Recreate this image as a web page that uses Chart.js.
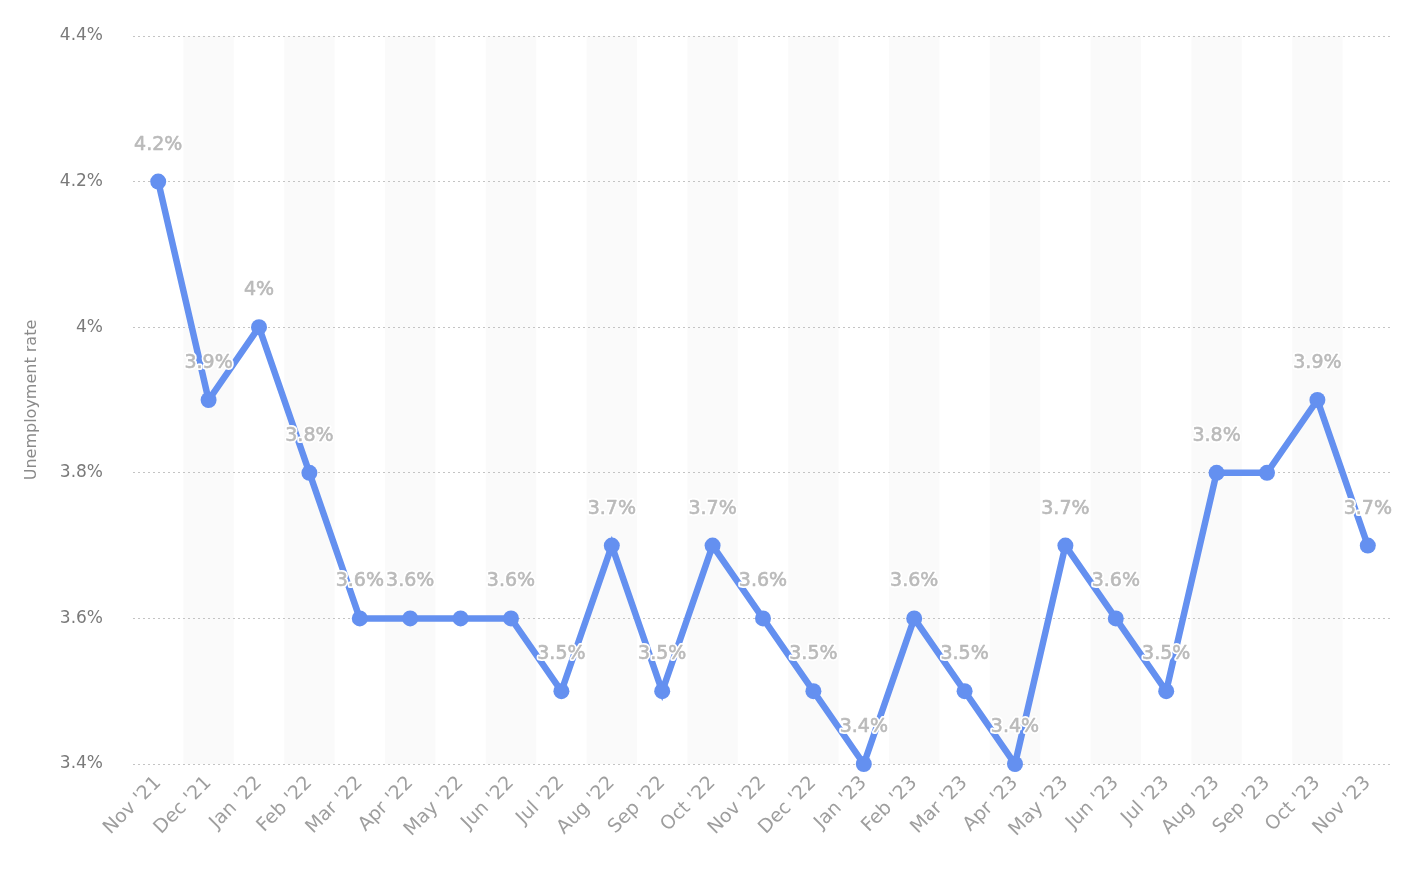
<!DOCTYPE html>
<html>
<head>
<meta charset="utf-8">
<script src="https://cdn.jsdelivr.net/npm/chart.js@4"></script>
<style>
  html, body { margin: 0; padding: 0; background: #fff; }
  #wrap { width: 1404px; height: 888px; }
</style>
</head>
<body>
<div id="wrap"><canvas id="chart" width="1404" height="888"></canvas></div>
<script>
// Monthly unemployment rate, Nov 2021 - Nov 2023
const months = [
  "Nov '21", "Dec '21", "Jan '22", "Feb '22", "Mar '22", "Apr '22", "May '22",
  "Jun '22", "Jul '22", "Aug '22", "Sep '22", "Oct '22", "Nov '22", "Dec '22",
  "Jan '23", "Feb '23", "Mar '23", "Apr '23", "May '23", "Jun '23", "Jul '23",
  "Aug '23", "Sep '23", "Oct '23", "Nov '23"
];
const rates = [
  4.2, 3.9, 4.0, 3.8, 3.6, 3.6, 3.6,
  3.6, 3.5, 3.7, 3.5, 3.7, 3.6, 3.5,
  3.4, 3.6, 3.5, 3.4, 3.7, 3.6, 3.5,
  3.8, 3.8, 3.9, 3.7
];
// value labels hidden where they would collide with a neighbour
const hiddenLabels = ["May '22", "Sep '23"];

const yMin = 3.4;
const yMax = 4.4;
const yStep = 0.2;

const fmtPct = v => `${parseFloat(v.toFixed(1))}%`;

/**
 * Alternating light column bands behind grid and line
 */
const bandPlugin = {
  id: 'bands',
  beforeDraw(chart) {
    const { ctx, chartArea, scales } = chart;
    const x = scales.x;
    const w = x.width / months.length;
    ctx.save();
    ctx.fillStyle = '#fafafa';
    months.forEach((m, i) => {
      if (i % 2 === 1) {
        const cx = x.getPixelForValue(i);
        ctx.fillRect(cx - w / 2, chartArea.top, w, chartArea.bottom - chartArea.top);
      }
    });
    ctx.restore();
  }
};

/**
 * Value labels above each point, with white halo
 */
const valueLabelPlugin = {
  id: 'valueLabels',
  afterDatasetsDraw(chart) {
    const { ctx } = chart;
    const meta = chart.getDatasetMeta(0);
    ctx.save();
    ctx.font = '19px "DejaVu Sans"';
    ctx.textAlign = 'center';
    ctx.textBaseline = 'middle';
    ctx.lineJoin = 'round';
    meta.data.forEach((pt, i) => {
      if (hiddenLabels.includes(months[i])) return;
      const text = fmtPct(rates[i]);
      const y = pt.y - 37;
      ctx.strokeStyle = '#ffffff';
      ctx.lineWidth = 4;
      ctx.strokeText(text, pt.x, y);
      ctx.fillStyle = '#bababa';
      ctx.fillText(text, pt.x, y);
      ctx.strokeStyle = '#bababa';
      ctx.lineWidth = 0.6;
      ctx.strokeText(text, pt.x, y);
    });
    ctx.restore();
  }
};

new Chart(document.getElementById('chart'), {
  type: 'line',
  data: {
    labels: months,
    datasets: [{
      label: 'Unemployment rate',
      data: rates,
      borderColor: '#6490f0',
      backgroundColor: '#6490f0',
      borderWidth: 6.5,
      pointRadius: 8,
      pointHoverRadius: 8,
      pointBackgroundColor: '#6490f0',
      pointBorderWidth: 0,
      tension: 0,
      fill: false,
      clip: false
    }]
  },
  options: {
    responsive: false,
    animation: false,
    devicePixelRatio: 1,
    layout: {
      padding: { top: 36, right: 11, bottom: 0, left: 0 }
    },
    plugins: {
      legend: { display: false },
      tooltip: { enabled: false }
    },
    scales: {
      x: {
        offset: true,
        border: { display: false },
        grid: { display: false, drawTicks: false },
        ticks: {
          autoSkip: false,
          maxRotation: 45,
          minRotation: 45,
          padding: 8,
          color: '#9e9e9e',
          font: { family: '"DejaVu Sans"', size: 19 }
        },
        afterFit(scale) {
          scale.height = 124;
        }
      },
      y: {
        min: yMin,
        max: yMax,
        border: { display: false, dash: [2, 3] },
        grid: {
          color: '#c4c4c4',
          lineWidth: 1,
          drawTicks: false
        },
        ticks: {
          stepSize: yStep,
          padding: 30,
          color: '#7a7a7a',
          font: { family: '"DejaVu Sans"', size: 17 },
          callback: v => fmtPct(v)
        },
        title: {
          display: true,
          text: 'Unemployment rate',
          color: '#8a8a8a',
          padding: { top: 22, bottom: 0 },
          font: { family: '"DejaVu Sans"', size: 16 }
        },
        afterFit(scale) {
          scale.width = 133;
          scale.paddingTop = 10;
          scale.paddingBottom = 10;
        }
      }
    }
  },
  plugins: [bandPlugin, valueLabelPlugin]
});
</script>
</body>
</html>
